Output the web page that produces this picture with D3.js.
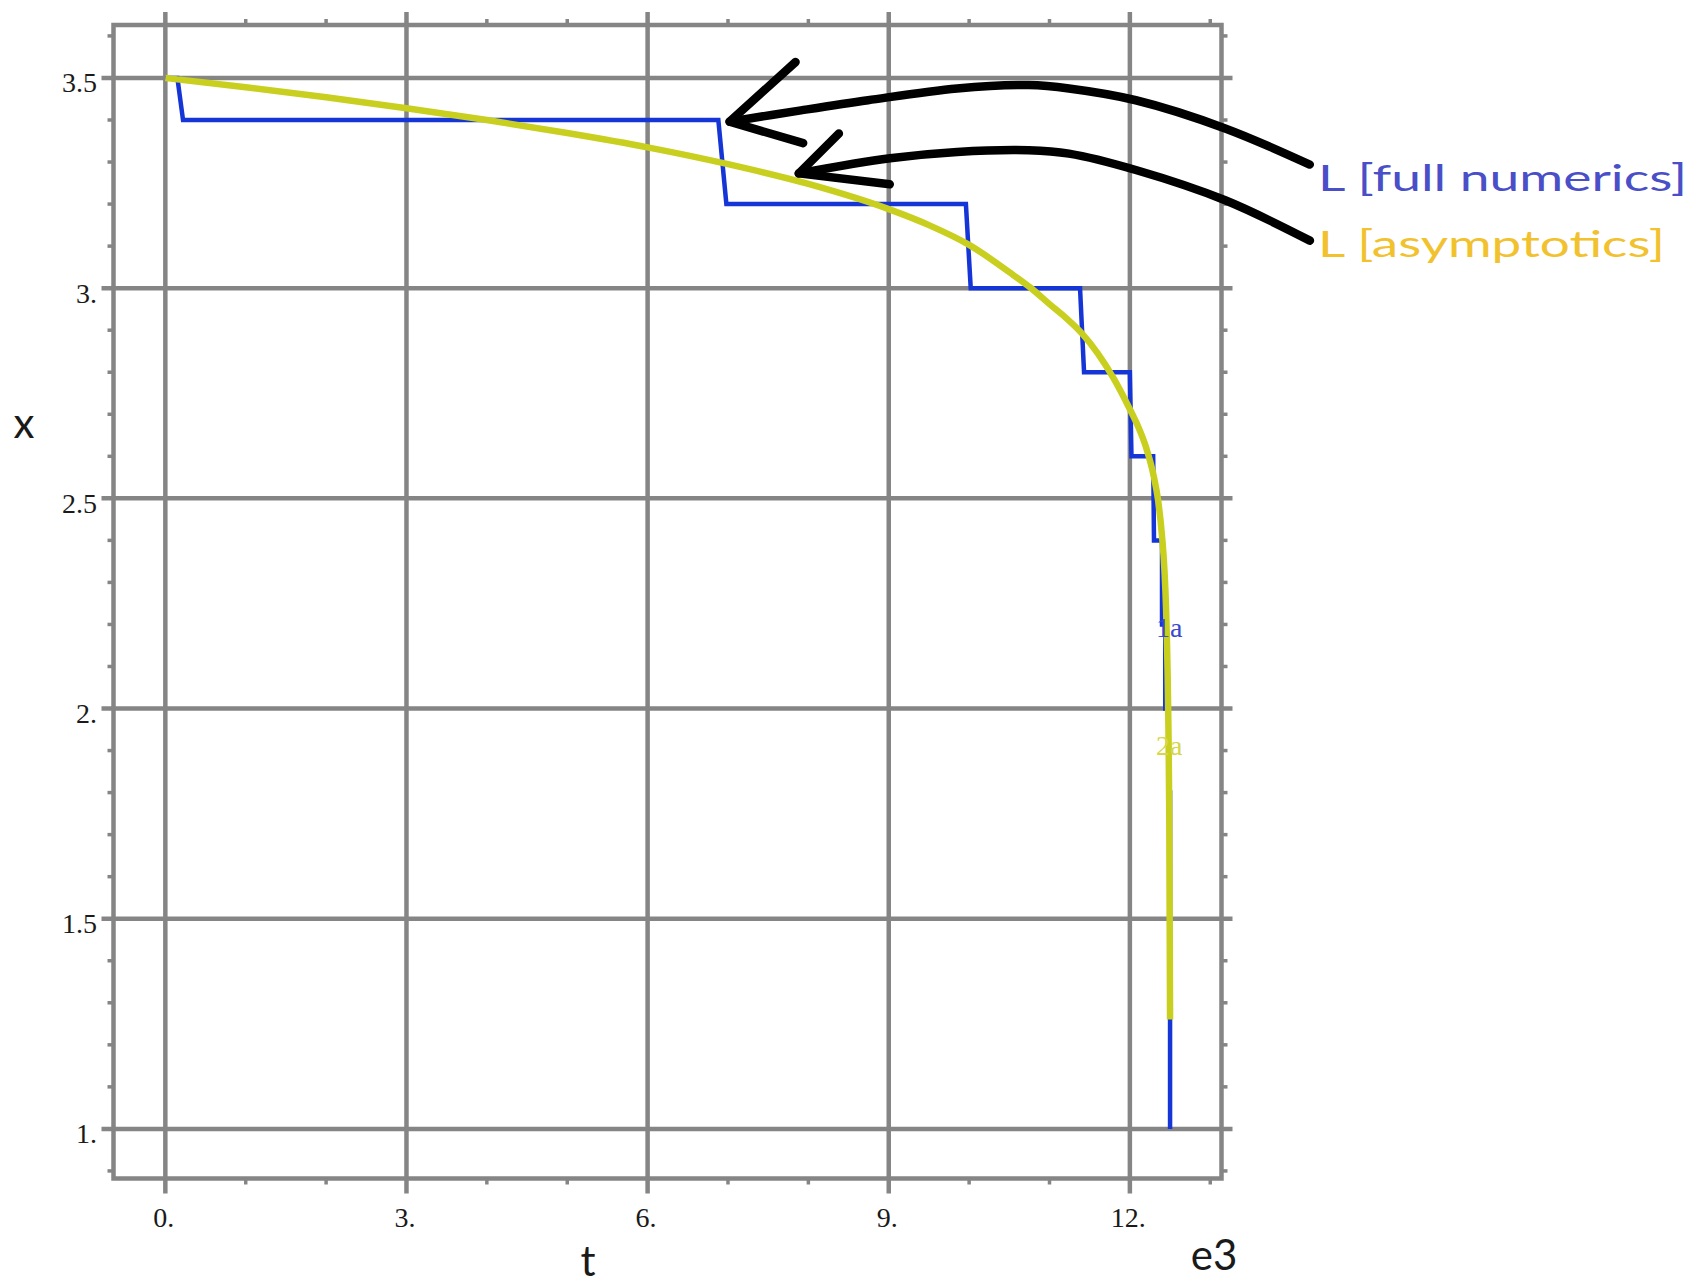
<!DOCTYPE html>
<html>
<head>
<meta charset="utf-8">
<script src="https://cdn.jsdelivr.net/npm/d3@7"></script>
<style>
  html, body { margin: 0; padding: 0; background: #ffffff; }
  svg { display: block; }
</style>
</head>
<body>
<svg id="chart" width="1697" height="1284"></svg>
<script>
// ---------------- data ----------------
const xMajorTicks = [0, 3, 6, 9, 12];
const xMajorLabels = ["0.", "3.", "6.", "9.", "12."];
const xMinorTicks = [1, 2, 4, 5, 7, 8, 10, 11, 13];
const yMajorTicks = [1, 1.5, 2, 2.5, 3, 3.5];
const yMajorLabels = ["1.", "1.5", "2.", "2.5", "3.", "3.5"];
const yMinorTicks = [0.9, 1.1, 1.2, 1.3, 1.4, 1.6, 1.7, 1.8, 1.9, 2.1, 2.2, 2.3, 2.4,
                     2.6, 2.7, 2.8, 2.9, 3.1, 3.2, 3.3, 3.4, 3.6];

// L [full numerics] : step curve (t in 1e3, x)
const fullT = [0, 0.15, 0.22, 6.88, 6.98, 9.96, 10.02, 11.38, 11.43, 12.0, 12.02, 12.29, 12.30,
               12.40, 12.40, 12.44, 12.44, 12.48, 12.48, 12.50, 12.50];
const fullX = [3.5, 3.5, 3.4, 3.4, 3.2, 3.2, 3.0, 3.0, 2.8, 2.8, 2.6, 2.6, 2.4,
               2.4, 2.2, 2.2, 2.0, 2.0, 1.8, 1.8, 1.0];

// L [asymptotics] : smooth curve
const asymT = [0, 1, 2, 3, 4, 5, 6, 7, 8, 9, 9.5, 10, 10.5, 10.77, 11.0, 11.2, 11.4, 11.6,
               11.8, 12.0, 12.1, 12.2, 12.3, 12.35, 12.4, 12.43, 12.45, 12.47, 12.48, 12.49, 12.5];
const asymX = [3.5, 3.478, 3.454, 3.428, 3.400, 3.369, 3.335, 3.295, 3.248, 3.188, 3.150, 3.103,
               3.038, 3.0, 2.962, 2.930, 2.893, 2.845, 2.785, 2.712, 2.672, 2.622, 2.55, 2.497,
               2.41, 2.33, 2.24, 2.08, 1.95, 1.75, 1.26];

// curve labels
const curveLabels = [
  { text: "1a", t: 12.49, x: 2.17, color: "#3a48d0" },
  { text: "2a", t: 12.49, x: 1.889, color: "#d6d64a" }
];

// legend
const legendItems = [
  { text: "L [full numerics]", color: "#4a4fc8" },
  { text: "L [asymptotics]", color: "#f2c12e" }
];

// hand-drawn annotation arrows (data coordinates)
const arrow1Body = [[14.238, 3.294], [13.186, 3.380], [12.074, 3.447], [11.242, 3.475],
                    [10.742, 3.483], [9.851, 3.475], [8.742, 3.447], [7.908, 3.423], [7.020, 3.396]];
const arrow1Head = [[7.841, 3.538], [7.020, 3.396], [7.935, 3.345]];
const arrow2Body = [[14.24, 3.113], [13.186, 3.209], [12.074, 3.281], [11.242, 3.320],
                    [10.742, 3.328], [9.851, 3.324], [9.017, 3.309], [7.881, 3.273]];
const arrow2Head = [[8.38, 3.368], [7.881, 3.273], [9.013, 3.247]];

// ---------------- drawing ----------------
const svg = d3.select("#chart");
const frame = { left: 113.5, right: 1221.5, top: 25, bottom: 1178.5 };

const x = d3.scaleLinear().domain([-0.645, 13.14]).range([frame.left, frame.right]);
const y = d3.scaleLinear().domain([0.882, 3.626]).range([frame.bottom, frame.top]);

const gridColor = "#858585";
const gridW = 4.5;
const majExt = 13;
const minLen = 6;

const g = svg.append("g");

// minor ticks (outside frame, all four sides)
const minor = g.append("g").attr("stroke", gridColor).attr("stroke-width", 3.5);
xMinorTicks.forEach(v => {
  minor.append("line").attr("x1", x(v)).attr("x2", x(v)).attr("y1", frame.top).attr("y2", frame.top - minLen);
  minor.append("line").attr("x1", x(v)).attr("x2", x(v)).attr("y1", frame.bottom).attr("y2", frame.bottom + minLen);
});
yMinorTicks.forEach(v => {
  minor.append("line").attr("y1", y(v)).attr("y2", y(v)).attr("x1", frame.left).attr("x2", frame.left - minLen);
  minor.append("line").attr("y1", y(v)).attr("y2", y(v)).attr("x1", frame.right).attr("x2", frame.right + minLen);
});

// frame
g.append("rect")
  .attr("x", frame.left).attr("y", frame.top)
  .attr("width", frame.right - frame.left).attr("height", frame.bottom - frame.top)
  .attr("fill", "none").attr("stroke", gridColor).attr("stroke-width", gridW);

// major grid lines (extend beyond frame)
const grid = g.append("g").attr("stroke", gridColor).attr("stroke-width", gridW);
xMajorTicks.forEach(v => {
  grid.append("line").attr("x1", x(v)).attr("x2", x(v))
    .attr("y1", frame.top - majExt).attr("y2", frame.bottom + 15);
});
yMajorTicks.forEach(v => {
  grid.append("line").attr("y1", y(v)).attr("y2", y(v))
    .attr("x1", frame.left - 12).attr("x2", frame.right + 11);
});

// tick labels via d3 axes
const serif = "'Liberation Serif', 'Times New Roman', serif";
const xAxis = d3.axisBottom(x).tickValues(xMajorTicks)
  .tickFormat((d, i) => xMajorLabels[i]).tickSize(0).tickPadding(0);
const xa = svg.append("g").attr("transform", `translate(-2, ${frame.bottom})`).call(xAxis);
xa.select(".domain").remove();
xa.selectAll("text")
  .attr("y", 48).attr("dy", 0)
  .attr("font-family", serif).attr("font-size", 28).attr("fill", "#1a1a1a");

const yAxis = d3.axisLeft(y).tickValues(yMajorTicks)
  .tickFormat((d, i) => yMajorLabels[i]).tickSize(0).tickPadding(0);
const ya = svg.append("g").attr("transform", `translate(97, 0)`).call(yAxis);
ya.select(".domain").remove();
ya.selectAll("text")
  .attr("x", 0).attr("dy", 14)
  .attr("font-family", serif).attr("font-size", 28).attr("fill", "#1a1a1a");

// series
const fullData = fullT.map((t, i) => [t, fullX[i]]);
const asymData = asymT.map((t, i) => [t, asymX[i]]);

const stepLine = d3.line().x(d => x(d[0])).y(d => y(d[1])).curve(d3.curveLinear);
const smoothLine = d3.line().x(d => x(d[0])).y(d => y(d[1])).curve(d3.curveMonotoneX);

svg.append("path").datum(fullData)
  .attr("d", stepLine)
  .attr("fill", "none").attr("stroke", "#1535d6").attr("stroke-width", 4.5)
  .attr("stroke-linejoin", "miter");

svg.append("path").datum(asymData)
  .attr("d", smoothLine)
  .attr("fill", "none").attr("stroke", "#c9cf1f").attr("stroke-width", 6.5)
  .attr("stroke-linecap", "butt");

// curve labels
curveLabels.forEach(l => {
  svg.append("text")
    .attr("x", x(l.t)).attr("y", y(l.x))
    .attr("text-anchor", "middle")
    .attr("font-family", serif).attr("font-size", 28).attr("fill", l.color)
    .text(l.text);
});

// axis titles
const sans = "Lato, 'Open Sans', 'Noto Sans', sans-serif";
svg.append("text").attr("x", 588).attr("y", 1276).attr("text-anchor", "middle")
  .attr("font-family", sans).attr("font-size", 42).attr("fill", "#1a1a1a").text("t");
svg.append("text").attr("x", 24).attr("y", 438).attr("text-anchor", "middle")
  .attr("font-family", sans).attr("font-size", 42).attr("fill", "#1a1a1a").text("x");
svg.append("text").attr("x", 1214).attr("y", 1270).attr("text-anchor", "middle")
  .attr("font-family", sans).attr("font-size", 42).attr("fill", "#1a1a1a").text("e3");

// legend texts
const legendY = [190.5, 257];
const legendW = [369, 347];
legendItems.forEach((l, i) => {
  svg.append("text")
    .attr("x", 1318).attr("y", legendY[i])
    .attr("font-family", sans).attr("font-size", 37)
    .attr("textLength", legendW[i]).attr("lengthAdjust", "spacingAndGlyphs")
    .attr("fill", l.color).text(l.text);
});

// annotation arrows
const arrowLine = d3.line().x(d => x(d[0])).y(d => y(d[1])).curve(d3.curveCatmullRom.alpha(0.5));
const headLine = d3.line().x(d => x(d[0])).y(d => y(d[1]));
[[arrow1Body, arrow1Head], [arrow2Body, arrow2Head]].forEach(([body, head]) => {
  svg.append("path").datum(body).attr("d", arrowLine)
    .attr("fill", "none").attr("stroke", "#000").attr("stroke-width", 8.5)
    .attr("stroke-linecap", "round").attr("stroke-linejoin", "round");
  svg.append("path").datum(head).attr("d", headLine)
    .attr("fill", "none").attr("stroke", "#000").attr("stroke-width", 8.5)
    .attr("stroke-linecap", "round").attr("stroke-linejoin", "round");
});
</script>
</body>
</html>
